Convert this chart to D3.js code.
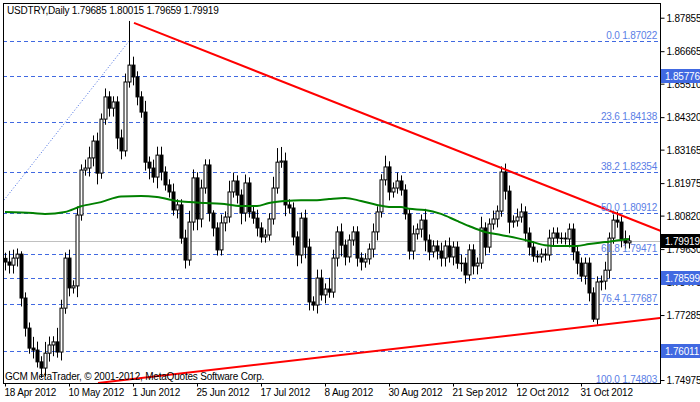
<!DOCTYPE html>
<html><head><meta charset="utf-8">
<script src="https://cdn.jsdelivr.net/npm/d3@7/dist/d3.min.js"></script>
<style>body{margin:0;background:#fff}svg{display:block}text{font-family:"Liberation Sans",sans-serif;font-size:10px;letter-spacing:-0.2px}</style>
</head><body><svg id="c" width="700" height="402"></svg>
<script>
const title = "USDTRY,Daily  1.79685 1.80015 1.79659 1.79919";
const copyright = "GCM MetaTrader, © 2001-2012, MetaQuotes Software Corp.";
const firstOpen = 1.7930;
const closes = [1.7917,1.7906,1.7931,1.7945,1.7789,1.7682,1.7611,1.7604,1.7562,1.7540,
1.7593,1.7622,1.7633,1.7597,1.7753,1.7931,1.7825,1.7832,1.8084,1.8244,
1.8251,1.8287,1.8347,1.8233,1.8425,1.8504,1.8464,1.8486,1.8358,1.8312,
1.8557,1.8617,1.8575,1.8504,1.8450,1.8272,1.8251,1.8219,1.8297,1.8237,
1.8191,1.8166,1.8102,1.8120,1.8002,1.7924,1.8059,1.8216,1.8070,1.8180,
1.8262,1.8091,1.8038,1.7960,1.8056,1.8077,1.8166,1.8205,1.8155,1.8091,
1.8198,1.8095,1.8073,1.8038,1.8006,1.8013,1.8070,1.8180,1.8272,1.8276,
1.8120,1.8109,1.8006,1.7942,1.8073,1.7970,1.7775,1.7764,1.7860,1.7800,
1.7821,1.7810,1.7931,1.8024,1.7977,1.7935,1.7995,1.8024,1.7931,1.7917,
1.7928,1.7963,1.8024,1.8095,1.8209,1.8255,1.8166,1.8180,1.8205,1.8173,
1.8088,1.7956,1.8017,1.8034,1.8066,1.7995,1.7953,1.7974,1.7956,1.7931,
1.7974,1.7935,1.7970,1.7913,1.7913,1.7871,1.7960,1.7903,1.7913,1.8038,
1.7970,1.8052,1.8070,1.8098,1.8237,1.8169,1.8059,1.8063,1.8077,1.8095,
1.8020,1.7970,1.7938,1.7935,1.7945,1.7942,1.8002,1.8020,1.8002,1.8002,
1.7999,1.8034,1.7953,1.7913,1.7867,1.7913,1.7807,1.7714,1.7846,1.7849,
1.7888,1.8002,1.8066,1.8059,1.7999,1.7985,1.7992];
const wickUp = [.002,.004,.003,.002,.001,.002,.002,.004,.003,.002,
.004,.003,.002,.005,.003,.002,.003,.002,.003,.002,
.003,.004,.002,.003,.002,.003,.002,.002,.002,.003,
.003,.0157,.003,.002,.002,.004,.002,.003,.003,.003,
.002,.002,.003,.002,.002,.003,.004,.003,.002,.003,
.002,.002,.001,.002,.003,.002,.004,.003,.002,.002,
.003,.002,.002,.003,.002,.002,.002,.004,.005,.005,
.003,.002,.002,.002,.002,.003,.003,.002,.003,.003,
.002,.004,.003,.002,.003,.002,.002,.002,.002,.002,
.002,.002,.003,.002,.002,.004,.002,.002,.003,.002,
.002,.002,.003,.002,.002,.004,.002,.002,.002,.003,
.002,.003,.002,.002,.003,.002,.002,.002,.002,.004,
.002,.002,.003,.002,.002,.003,.002,.002,.003,.003,
.002,.002,.002,.002,.002,.002,.003,.002,.002,.002,
.002,.002,.002,.002,.002,.002,.002,.002,.002,.002,
.003,.002,.002,.003,.002,.003,.002];
const wickDn = [.003,.003,.003,.003,.003,.003,.002,.003,.002,.0035,
.003,.003,.004,.002,.003,.002,.003,.002,.004,.002,
.002,.003,.003,.004,.002,.002,.003,.003,.004,.003,
.002,.002,.003,.003,.002,.003,.004,.002,.004,.003,
.002,.002,.002,.003,.002,.003,.002,.003,.004,.003,
.002,.003,.003,.002,.002,.003,.002,.002,.003,.004,
.003,.002,.002,.003,.002,.002,.002,.002,.002,.002,
.004,.002,.003,.004,.003,.004,.003,.002,.003,.002,
.003,.002,.002,.003,.004,.003,.002,.002,.003,.003,
.002,.002,.003,.003,.002,.002,.003,.002,.002,.002,
.002,.003,.003,.002,.003,.004,.003,.002,.003,.003,
.003,.002,.003,.002,.003,.003,.002,.003,.003,.002,
.003,.002,.002,.003,.002,.003,.004,.002,.002,.002,
.003,.003,.002,.002,.002,.002,.002,.003,.002,.002,
.002,.003,.003,.004,.002,.003,.003,.001,.002,.003,
.003,.003,.002,.002,.003,.002,.002];
const maIdx = [0,7,10,15,19,24,29,34,38,43,46,50,54,59,63,66,70,74,78,81,85,89,93,96,99,101,105,109,113,116,120,124,128,131,135,139,143,146,150,154,156];
const maVals = [1.8095,1.8091,1.8088,1.8095,1.8115,1.8130,1.8150,1.8152,1.8148,1.8134,1.8130,1.8127,1.8124,1.8116,1.8116,1.8127,1.8134,1.8137,1.8137,1.8141,1.8145,1.8134,1.8120,1.8113,1.8113,1.8106,1.8102,1.8088,1.8063,1.8045,1.8024,1.8013,1.8002,1.7992,1.7977,1.7974,1.7974,1.7981,1.7988,1.7995,1.7999];
const trendUpper = [[32.25,1.8767],[164,1.8027]];
const trendLower = [[23.25,1.7487],[164,1.7718]];
const fibLine = [[-0.25,1.8137],[31,1.87022]];
const fibLevels = ["0.0","23.6","38.2","50.0","61.8","76.4","100.0"];
const fibPrices = [1.87022,1.84138,1.82354,1.80912,1.79471,1.77687,1.74803];
const extraLevels = [1.85776,1.78599,1.76011];
const bid = 1.79919;
const yTicks = [1.87855,1.86665,1.85510,1.84320,1.83165,1.81975,1.80820,1.79630,1.78475,1.77285,1.76130,1.74975];
const dateLabels = ["18 Apr 2012","10 May 2012","1 Jun 2012","25 Jun 2012","17 Jul 2012","8 Aug 2012","30 Aug 2012","21 Sep 2012","12 Oct 2012","31 Oct 2012"];
const dateIdx = [0,16,32,48,64,80,96,112,128,144];

const L=3,R=660,T=3,B=383;
const svg=d3.select("#c");
const x=d3.scaleLinear().domain([0,164]).range([5,661]);
const y=d3.scaleLinear().domain([1.74869,1.88378]).range([B,T]);
const blue="#4169e1";
const g=svg.append("g");
svg.append("clipPath").attr("id","cp").append("rect").attr("x",L).attr("y",T).attr("width",R-L).attr("height",B-T);
const p=g.append("g").attr("clip-path","url(#cp)");
[...fibPrices,...extraLevels].forEach(v=>p.append("line").attr("x1",L).attr("x2",R).attr("y1",Math.round(y(v))+.5).attr("y2",Math.round(y(v))+.5).attr("stroke",blue).attr("stroke-dasharray","4,3"));
p.append("line").attr("x1",L).attr("x2",R).attr("y1",Math.round(y(bid))+.5).attr("y2",Math.round(y(bid))+.5).attr("stroke","#c0c0c0");
p.append("line").attr("x1",x(fibLine[0][0])).attr("y1",y(fibLine[0][1])).attr("x2",x(fibLine[1][0])).attr("y2",y(fibLine[1][1])).attr("stroke",blue).attr("stroke-dasharray","1,2");
const data=closes.map((c,i)=>{const o=i?closes[i-1]:firstOpen;return {i,o,c,h:Math.max(o,c)+wickUp[i],l:Math.min(o,c)-wickDn[i]};});
data.forEach(d=>{const cx=Math.round(x(d.i))+.5;
 p.append("line").attr("x1",cx).attr("x2",cx).attr("y1",y(d.h)).attr("y2",y(d.l)).attr("stroke","#000");
 const top=y(Math.max(d.o,d.c)),bot=y(Math.min(d.o,d.c));
 p.append("rect").attr("x",cx-1.5).attr("y",top).attr("width",3).attr("height",Math.max(bot-top,0.5)).attr("fill",d.c>=d.o?"#fff":"#000").attr("stroke","#000").attr("stroke-width",1);
});
p.append("path").datum(maIdx.map((k,j)=>[k,maVals[j]])).attr("d",d3.line().x(d=>x(d[0])).y(d=>y(d[1])).curve(d3.curveMonotoneX)).attr("fill","none").attr("stroke","#008000").attr("stroke-width",2);
[trendUpper,trendLower].forEach(t=>p.append("line").attr("x1",x(t[0][0])).attr("y1",y(t[0][1])).attr("x2",x(t[1][0])).attr("y2",y(t[1][1])).attr("stroke","#ff0000").attr("stroke-width",2));
fibPrices.forEach((v,j)=>p.append("text").attr("x",657).attr("y",y(v)-2).attr("text-anchor","end").attr("fill","#5a7ee6").text(fibLevels[j]+" "+v.toFixed(5)));
svg.append("rect").attr("x",L+.5).attr("y",T+.5).attr("width",R-L).attr("height",B-T).attr("fill","none").attr("stroke","#000");
const shown=yTicks.filter(v=>v!==1.76130);
const ax=svg.append("g").attr("transform",`translate(${R+.5},0)`).call(d3.axisRight(y).tickValues(shown).tickSize(4).tickPadding(2).tickFormat(d3.format(".5f")));
ax.select(".domain").remove();
ax.selectAll("text").attr("font-size","10px").attr("font-family","Liberation Sans").attr("dy","0.35em");
const lab=(v,fill)=>{const yy=Math.round(y(v));svg.append("rect").attr("x",R+1).attr("y",yy-7).attr("width",39).attr("height",14).attr("fill",fill);
 svg.append("text").attr("x",R+5).attr("y",yy+4).attr("fill","#fff").text(v.toFixed(5));};
extraLevels.forEach(v=>lab(v,blue));
lab(bid,"#000");
const xa=svg.append("g").attr("transform",`translate(0,${B+.5})`).call(d3.axisBottom(x).tickValues(dateIdx).tickSize(3).tickPadding(2).tickFormat((d,j)=>dateLabels[j]));
xa.select(".domain").remove();
xa.selectAll("text").attr("text-anchor","start").attr("font-size","10px").attr("font-family","Liberation Sans").attr("dx","-1");
svg.append("text").attr("x",7).attr("y",14).text(title);
svg.append("text").attr("x",5).attr("y",380).text(copyright);
</script></body></html>
